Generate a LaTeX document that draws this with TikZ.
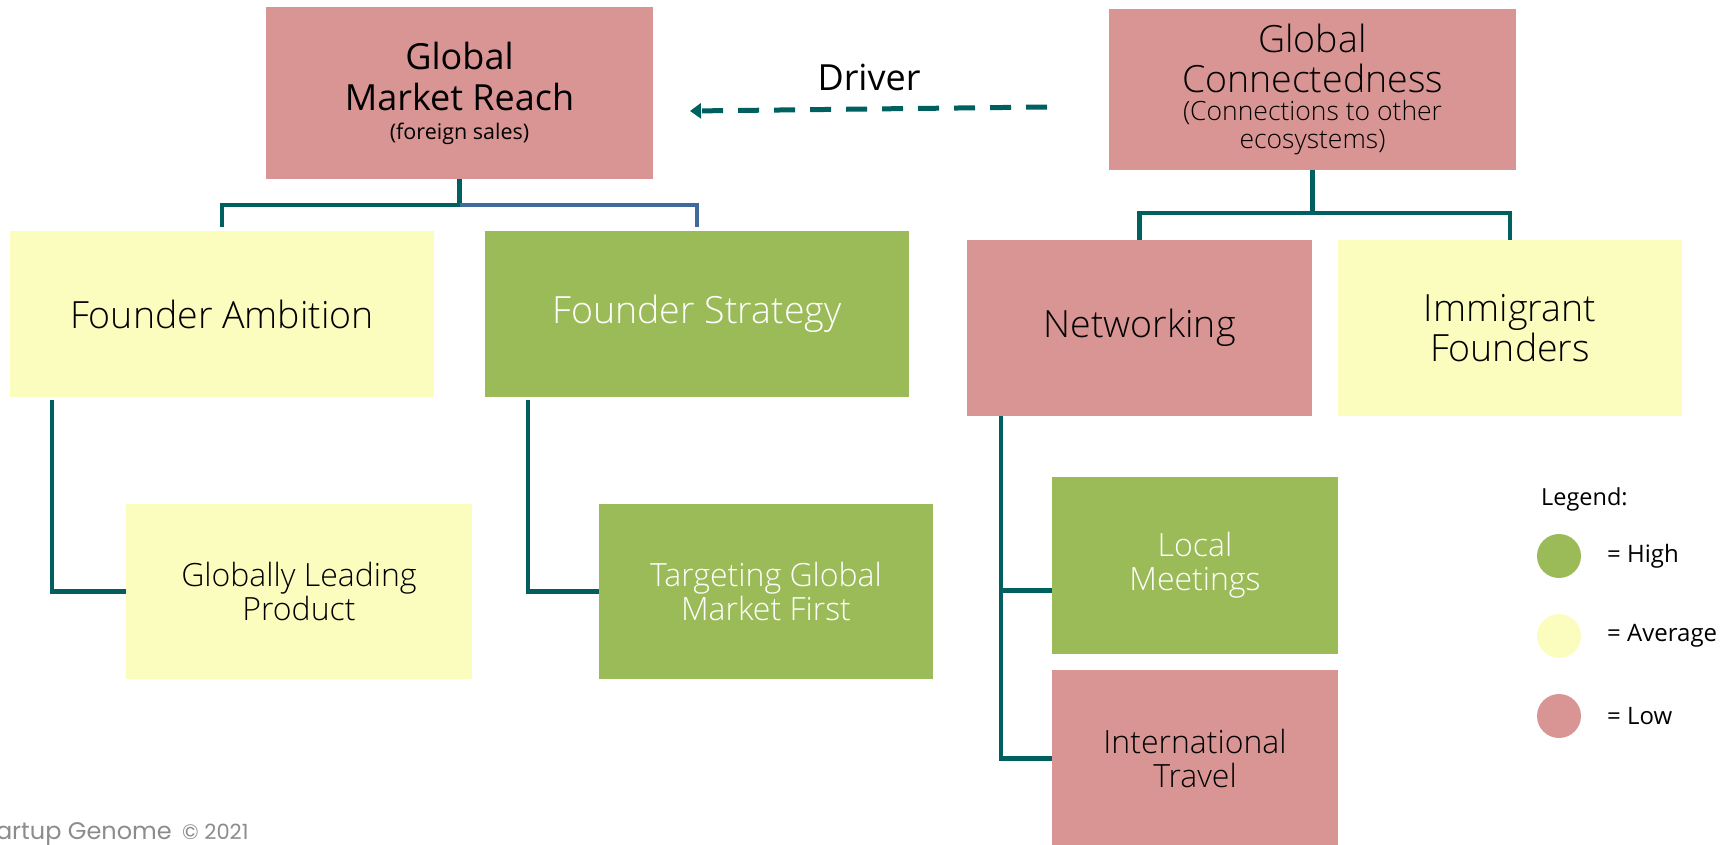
\documentclass[tikz,border=0pt]{standalone}
\usepackage{fontspec}
\setmainfont{Open Sans}
\newfontfamily\osl{Open Sans Light}
\newfontfamily\footfont{Poppins}
\usetikzlibrary{arrows.meta}
\definecolor{lowc}{HTML}{D99594}
\definecolor{highc}{HTML}{9BBB59}
\definecolor{avgc}{HTML}{FAFDBE}
\definecolor{linec}{HTML}{006060}
\definecolor{bluec}{HTML}{3F6A9C}
\definecolor{footc}{HTML}{8C8C8C}
\tikzset{
  box/.style={rectangle, inner sep=0pt, align=center, text=black},
  low/.style={box, fill=lowc},
  high/.style={box, fill=highc, text=white},
  avg/.style={box, fill=avgc},
  big/.style={font=\osl\fontsize{37.5}{40}\selectfont},
  mid/.style={font=\osl\fontsize{32}{34}\selectfont},
  conn/.style={draw=linec, line width=4.5pt},
  dashline/.style={draw=linec, line width=5pt, dash pattern=on 21pt off 15pt,
    -{Triangle[length=11pt,width=15pt]}},
  legdot/.style={circle, inner sep=0pt, minimum size=44pt},
  legtxt/.style={anchor=west, inner sep=0pt, font=\fontsize{24}{28}\selectfont},
}
\begin{document}
\begin{tikzpicture}[x=1pt,y=-1pt]
\useasboundingbox (0,0) rectangle (1732,844);
% top boxes
\node[low, minimum width=387pt, minimum height=172pt, font=\fontsize{36}{41}\selectfont] (gmr) at (459.5,93)
  {Global\\Market Reach\\[-12pt]{\fontsize{21.5}{24}\selectfont (foreign sales)}};
\node[low, minimum width=407pt, minimum height=161pt, font=\osl\fontsize{37.5}{40}\selectfont] (gc) at (1312.5,89.5)
  {Global\\Connectedness\\[-12pt]{\fontsize{26.5}{28}\selectfont (Connections to other}\\[-12pt]{\fontsize{26.5}{28}\selectfont ecosystems)}};
% second row
\node[avg, big, minimum width=424pt, minimum height=166pt] (fa) at (222,314) {Founder Ambition};
\node[high, big, minimum width=424pt, minimum height=166pt] (fs) at (697,314) {Founder Strategy};
\node[low, big, minimum width=345pt, minimum height=176pt] (net) at (1139.5,328) {Networking};
\node[avg, big, minimum width=344pt, minimum height=176pt] (imm) at (1510,328) {Immigrant\\Founders};
% third row
\node[avg, mid, minimum width=346pt, minimum height=175pt] (glp) at (299,591.5) {Globally Leading\\Product};
\node[high, mid, minimum width=334pt, minimum height=175pt] (tgm) at (766,591.5) {Targeting Global\\Market First};
\node[high, mid, minimum width=286pt, minimum height=177pt] (lm) at (1195,565.5) {Local\\Meetings};
\node[low, mid, minimum width=286pt, minimum height=177pt] (it) at (1195,758.5) {International\\Travel};
% driver arrow
\node[font=\fontsize{36}{40}\selectfont, inner sep=0pt] (drv) at (869,77) {Driver};
\coordinate (dstart) at (1047,107);
\coordinate (dend) at (690,111);
\draw[dashline] (dstart) -- (dend);
% connectors
\coordinate (gmrj) at (459.5,205);
\draw[conn] (gmr.south) -- (gmrj) -| ([yshift=4pt]fa.north);
\draw[conn, draw=bluec] (gmrj) -| ([yshift=4pt]fs.north);
\coordinate (gcj) at (1312.5,213);
\draw[conn] (gc.south) -- (gcj) -| (net.north);
\draw[conn] (gcj) -| (imm.north);
\draw[conn] ([xshift=-170pt,yshift=-3pt]fa.south) |- (glp.west);
\draw[conn] ([xshift=-169pt,yshift=-3pt]fs.south) |- (tgm.west);
\coordinate (netv) at ([xshift=-138.5pt]net.south);
\coordinate (lmb) at ([yshift=-25pt]lm.west);
\draw[conn] (netv) |- (it.west);
\draw[conn] (netv |- lmb) -- (lmb);
% legend
\node[legtxt, font=\fontsize{23.5}{28}\selectfont] (legt) at (1541,499) {Legend:};
\node[legdot, fill=highc] (lh) at (1559,556) {};
\node[legdot, fill=avgc] (la) at (1559,636) {};
\node[legdot, fill=lowc] (ll) at (1559,716) {};
\node[legtxt] (lht) at (1607,556) {= High};
\node[legtxt] (lat) at (1607,636) {= Average};
\node[legtxt] (llt) at (1607,716) {= Low};
% footer
\node[anchor=base east, inner sep=0pt, text=footc, font=\footfont\fontsize{24}{24}\selectfont] (ft) at (172,839) {Startup Genome};
\node[anchor=base west, inner sep=0pt, text=footc, font=\footfont\fontsize{21}{21}\selectfont] (fty) at (182,839) {© 2021};
\end{tikzpicture}
\end{document}
